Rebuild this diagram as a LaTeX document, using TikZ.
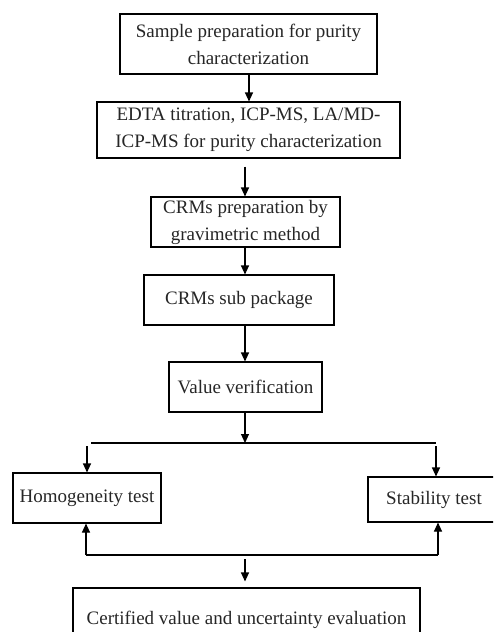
\documentclass[tikz,border=0pt]{standalone}
\usepackage{fontspec}
\setmainfont{Liberation Serif}
\usetikzlibrary{arrows.meta,calc}
\begin{document}
\begin{tikzpicture}[x=1pt,y=-1pt,
  box/.style={draw, line width=1.1pt, inner sep=0pt, align=center,
    font=\fontsize{19}{27}\selectfont, text=black!85},
  conn/.style={line width=1.1pt, -{Triangle[length=9pt,width=8pt]}},
  plain/.style={line width=1.1pt}]
\useasboundingbox (0,0) rectangle (493,632);
\clip (0,0) rectangle (493,632);
\fill[white] (0,0) rectangle (493,632);
\node[box, minimum width=257, minimum height=60] (b1) at (248.5,44) {Sample preparation for purity\\characterization};
\node[box, minimum width=303, minimum height=56] (b2) at (248.5,130) {EDTA titration, ICP-MS, LA/MD-\\ICP-MS for purity characterization};
\node[box, minimum width=189, minimum height=50] (b3) at (245.5,222) {CRMs preparation by\\gravimetric method};
\node[box, minimum width=190, minimum height=50] (b4) at (239,300) {CRMs sub package};
\node[box, minimum width=153, minimum height=50] (b5) at (245.5,387) {Value verification};
\node[box, minimum width=148, minimum height=50] (hom) at (87,498) {Homogeneity test};
\node[box, minimum width=132, minimum height=45] (stab) at (434,499.5) {Stability test};
\node[box, minimum width=347, minimum height=64] (cert) at (246.5,620) {Certified value and uncertainty evaluation};
% split and merge coordinates
\coordinate (sL) at (87,443);
\coordinate (sM) at (245,443);
\coordinate (sR) at (436,443);
\coordinate (mL) at (86,555);
\coordinate (mM) at (245,555);
\coordinate (mR) at (438,555);
\draw[conn] (b1.south -| 249,0) -- (b2.north -| 249,0);
\draw[conn, shorten <=8pt] (b2.south -| sM) -- (b3.north -| sM);
\draw[conn] (b3.south -| sM) -- (b4.north -| sM);
\draw[conn] (b4.south -| sM) -- (b5.north -| sM);
\draw[conn] (b5.south -| sM) -- (sM);
\draw[plain] (91,443) -- (sR);
\draw[conn, shorten <=3pt] (sL) -- (hom.north -| sL);
\draw[conn, shorten <=3pt] (sR) -- (stab.north -| sR);
\draw[conn] (mL) -- (hom.south -| mL);
\draw[conn] (mR) -- (stab.south -| mR);
\draw[plain] (mL) -- (mR);
\draw[conn, shorten <=4pt, shorten >=6pt] (mM) -- (cert.north -| mM);
\end{tikzpicture}
\end{document}
